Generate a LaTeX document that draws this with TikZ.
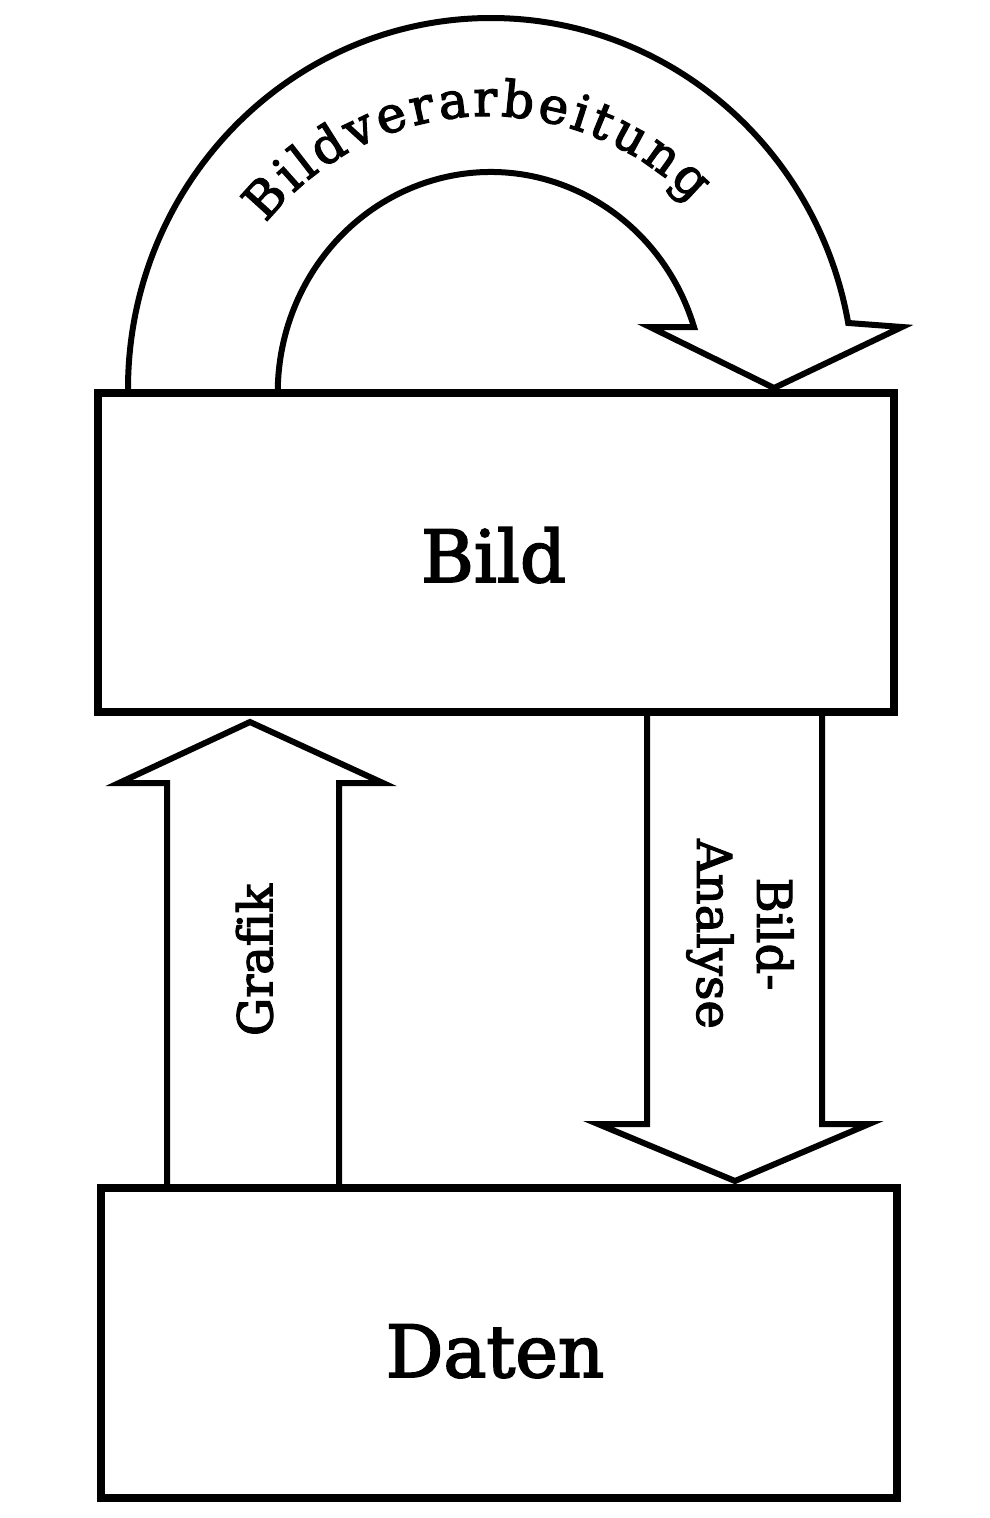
\documentclass[tikz,border=0pt]{standalone}
\usepackage{fontspec}
\setmainfont{DejaVu Serif}[FakeBold=2.5, Ligatures=NoCommon]
\usetikzlibrary{calc,decorations.text}
\newcommand\arcfnt{\fontsize{50}{50}\selectfont}
\tikzset{
  boxnode/.style={draw, line width=8pt, inner sep=0pt, minimum width=796pt},
  blockarrow/.style={draw, line width=6pt, line join=miter},
  bigtext/.style={font=\fontsize{72}{72}\selectfont, inner sep=0pt},
  midtext/.style={font=\fontsize{48}{60}\selectfont, inner sep=0pt, align=center}
}
\begin{document}
\begin{tikzpicture}[x=1pt,y=1pt]
\fill[white] (0,-1518) rectangle (990,0);
\useasboundingbox (0,-1518) rectangle (990,0);

% boxes
\node[boxnode, minimum height=319pt] (bild) at (496,-552.5) {};
\node[boxnode, minimum height=310pt] (daten) at (499,-1343) {};
\node[bigtext, anchor=base] (bildtxt) at (493.5,-582) {Bild};
\node[bigtext, anchor=base] (datentxt) at (495,-1377) {Daten};

% Bildverarbeitung arc arrow
\draw[blockarrow] (128,0 |- bild.north)
  arc[start angle=180, end angle=10.25, x radius=363pt, y radius=371pt]
  -- (902,-327) -- (774,-388) -- (650,-327) -- (694,-327)
  arc[start angle=17.38, end angle=180, x radius=213pt, y radius=221pt];
\begin{scope}
\arcfnt
\path[decorate, decoration={text along path, text={|\arcfnt|Bildverarbeitung}, text align=fit to path}]
  ($(488,-400)+(141.5:284pt)$) arc[start angle=141.5, end angle=44, radius=284pt];
\end{scope}

% Grafik arrow (up)
\draw[blockarrow] (167,0 |- daten.north) -- (167,-783) -- (119,-783) -- (250,-722)
  -- (383,-783) -- (339,-783) -- (339,0 |- daten.north);
\node[midtext, rotate=90] (grafik) at (254.5,-960) {Grafik};

% Bild-Analyse arrow (down)
\draw[blockarrow] (647,0 |- bild.south) -- (647,-1124) -- (598,-1124) -- (735,-1181)
  -- (869,-1124) -- (822,-1124) -- (822,0 |- bild.south);
\node[midtext, rotate=-90] (analyse) at (740,-934) {Bild-\\Analyse};
\end{tikzpicture}
\end{document}
